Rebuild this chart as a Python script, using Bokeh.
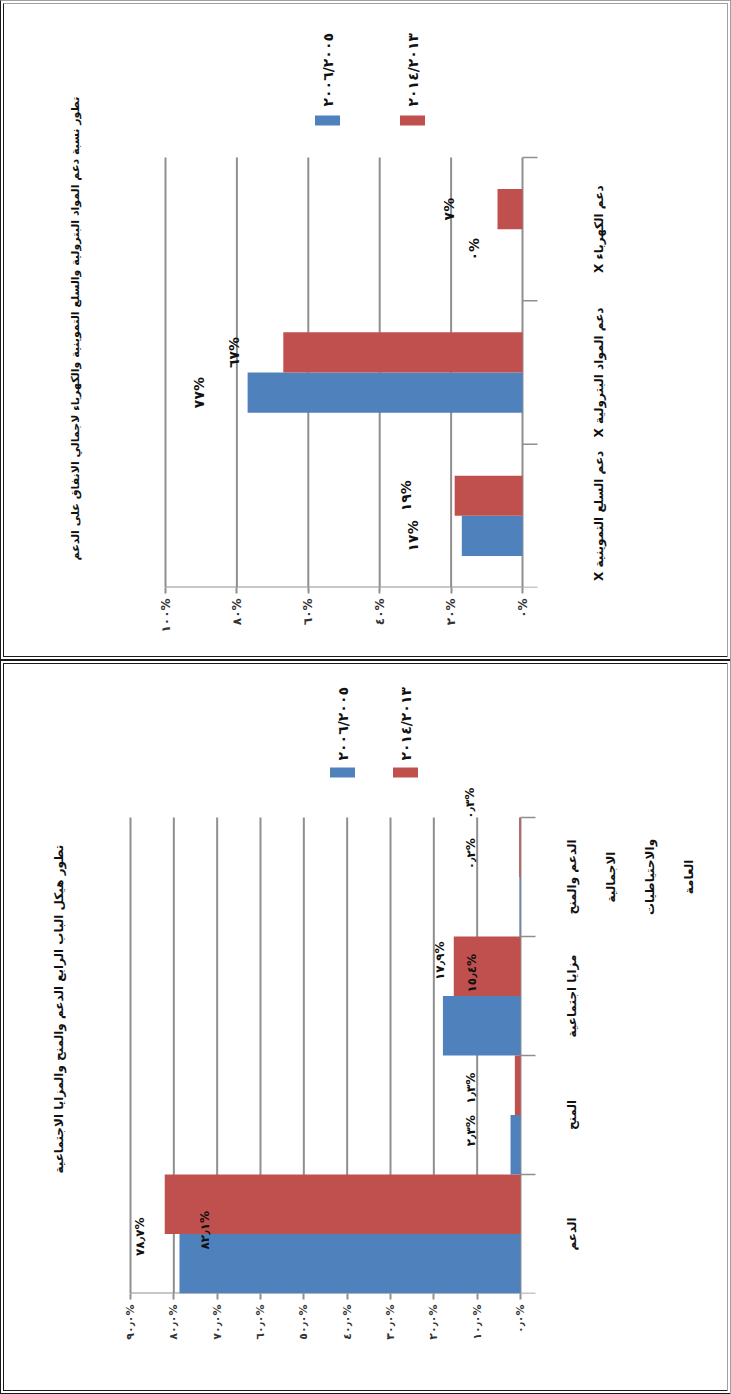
import math
from bokeh.plotting import figure
from bokeh.models import Range1d, FixedTicker, LinearAxis, Title, ColumnDataSource
from bokeh.layouts import column
from bokeh.embed import file_html
from bokeh.resources import INLINE
from bokeh.core.properties import value

AR_FONT = "DejaVu Sans"
BLUE = "#4F81BD"
RED = "#C0504D"
GRID = "#8f8f8f"
INK = "#111111"

# ---------------- data: top chart ----------------
top_title = "تطور نسبة دعم المواد البترولية والسلع التموينية والكهرباء لاجمالي الانفاق على الدعم"
top_categories = ["X دعم السلع التموينية", "X دعم المواد البترولية", "X دعم الكهرباء"]
top_series = ["٢٠٠٦/٢٠٠٥", "٢٠١٤/٢٠١٣"]
top_2005_06 = [17, 77, 0]
top_2013_14 = [19, 67, 7]
top_ticks = [0, 20, 40, 60, 80, 100]
top_tick_labels = ["٠%", "٢٠%", "٤٠%", "٦٠%", "٨٠%", "١٠٠%"]

# ---------------- data: bottom chart ----------------
bot_title = "تطور هيكل الباب الرابع الدعم والمنح والمزايا الاجتماعية"
bot_categories = ["الدعم", "المنح", "مزايا اجتماعية",
                  "الدعم والمنح\nالاجمالية\nوالاحتياطيات\nالعامة"]
bot_series = ["٢٠٠٦/٢٠٠٥", "٢٠١٤/٢٠١٣"]
bot_2005_06 = [78.7, 2.3, 17.9, 0.2]
bot_2013_14 = [82.1, 1.3, 15.4, 0.3]
bot_ticks = [0, 10, 20, 30, 40, 50, 60, 70, 80, 90]
bot_tick_labels = ["٠٫٠%", "١٠٫٠%", "٢٠٫٠%", "٣٠٫٠%", "٤٠٫٠%",
                   "٥٠٫٠%", "٦٠٫٠%", "٧٠٫٠%", "٨٠٫٠%", "٩٠٫٠%"]

AR_DIGITS = str.maketrans("0123456789.", "٠١٢٣٤٥٦٧٨٩٫")


def ar_pct(v, dec):
    return (f"{v:.{dec}f}").translate(AR_DIGITS) + "%"


PAGE_W = 731
BW = 4                                  # panel border width (CSS)
FRAME_L, FRAME_R, FRAME_T = 96, 725, 6  # in panel (page) pixels


def make_panel(cfg):
    height = cfg["height"]
    fb = cfg["axis_px"]            # pixel row of the value axis
    p0, pmax = cfg["zero_px"], cfg["max_px"]
    vmax = cfg["vmax"]
    gtop = cfg["grid_top_px"]
    cats = cfg["cats"]
    n = len(cats)
    ppv = (p0 - pmax) / vmax       # pixels per value unit
    ppu = (fb - gtop) / n          # pixels per category

    def vx(px):
        return (p0 - px) / ppv

    def vy(py):
        return (fb - py) / ppu

    # the drawing canvas keeps the full panel size and starts inside the border
    p = figure(width=PAGE_W - 2 * BW, height=height - 2 * BW,
               x_range=Range1d(vx(FRAME_L), vx(FRAME_R)),
               y_range=Range1d(0, vy(FRAME_T)),
               output_backend="svg", toolbar_location=None,
               x_axis_location=None, y_axis_location=None,
               min_border_left=FRAME_L - BW,
               min_border_right=PAGE_W - (FRAME_R - BW),
               min_border_top=FRAME_T - BW,
               min_border_bottom=height - (fb - BW))
    p.outline_line_color = None
    p.grid.visible = False

    ticks = cfg["ticks"]
    xa = LinearAxis(ticker=FixedTicker(ticks=ticks),
                    major_label_overrides={t: l for t, l in zip(ticks, cfg["tick_labels"])},
                    major_label_orientation=math.pi / 2,
                    major_label_text_font=AR_FONT,
                    major_label_text_font_size=cfg["tick_size"],
                    major_label_text_font_style="bold",
                    major_label_text_color="#333333",
                    axis_line_color=None,
                    major_tick_line_color=GRID, major_tick_line_width=2,
                    major_tick_in=0, major_tick_out=6,
                    minor_tick_line_color=None, major_label_standoff=5)
    p.add_layout(xa, "below")

    # gridlines (including the category axis at 0) and value axis line
    p.segment(x0=ticks, y0=[0] * len(ticks), x1=ticks, y1=[n] * len(ticks),
              line_color=GRID, line_width=2)
    p.segment(x0=[0], y0=[0], x1=[vmax], y1=[0], line_color=GRID, line_width=2)
    # category boundary tick marks
    bounds = list(range(n + 1))
    p.segment(x0=[0] * (n + 1), y0=bounds, x1=[vx(p0 + 15)] * (n + 1), y1=bounds,
              line_color=GRID, line_width=1.5)

    centers = [i + 0.5 for i in range(n)]
    bh = cfg["bar_h"]
    y_blue = [c - bh / 2 for c in centers]
    y_red = [c + bh / 2 for c in centers]
    for vals, col, ys, offs in ((cfg["s1"], BLUE, y_blue, cfg["off1"]),
                                (cfg["s2"], RED, y_red, cfg["off2"])):
        src = ColumnDataSource(dict(y=ys, v=vals,
                                    t=[ar_pct(v, cfg["dec"]) for v in vals],
                                    dx=[o[0] for o in offs],
                                    dy=[o[1] for o in offs]))
        p.hbar(y="y", left=0, right="v", height=bh, source=src,
               fill_color=col, line_color=None)
        p.text(x="v", y="y", text="t", source=src, angle=math.pi / 2,
               x_offset="dx", y_offset="dy",
               text_align="center", text_baseline="middle",
               text_font=value(AR_FONT), text_font_size=cfg["lab_size"],
               text_font_style="bold", text_color=INK)

    # category labels (rotated like the rest of the chart), one text per line
    lx, ly, lt = [], [], []
    for c, name in zip(centers, cats):
        for j, line in enumerate(name.split("\n")):
            lx.append(vx(cfg["cat_px"] + j * cfg["cat_step"]))
            ly.append(c)
            lt.append(line)
    p.text(x=lx, y=ly, text=lt, angle=math.pi / 2,
           text_align="center", text_baseline="middle",
           text_font=value(AR_FONT), text_font_size=cfg["cat_size"],
           text_font_style="bold", text_color=INK)

    # legend
    (bx, rx), sw_y, txt_y = cfg["legend_px"]
    gx = [vx(bx), vx(rx)]
    p.rect(x=gx, y=[vy(sw_y)] * 2, width=25, height=10,
           width_units="screen", height_units="screen",
           fill_color=[BLUE, RED], line_color=None)
    p.text(x=gx, y=[vy(txt_y)] * 2, text=cfg["names"], angle=math.pi / 2,
           text_align="left", text_baseline="middle",
           text_font=value(AR_FONT), text_font_size="14px",
           text_font_style="bold", text_color=INK)

    # title
    p.add_layout(Title(text=cfg["title"], align="left", offset=cfg["title_offset"],
                       text_font=AR_FONT, text_font_size=cfg["title_size"],
                       text_font_style="bold", text_color=INK,
                       standoff=cfg["title_standoff"]), "left")
    p.styles = {"box-sizing": "content-box",
                "border": f"{BW}px double #1a1a1a",
                "border-right": f"{BW}px double #a0a0a0",
                **cfg.get("extra_style", {})}
    return p


top = make_panel(dict(
    height=660, axis_px=587, zero_px=522, max_px=165, vmax=100, grid_top_px=157,
    cats=top_categories, s1=top_2005_06, s2=top_2013_14, names=top_series,
    ticks=top_ticks, tick_labels=top_tick_labels, tick_size="12px", dec=0,
    bar_h=0.28, lab_size="14px",
    off1=[(-49, 0)] * 3, off2=[(-49, 0)] * 3,
    cat_px=598, cat_step=0, cat_size="12px",
    legend_px=((327, 412), 120, 106),
    title=top_title, title_size="11px", title_offset=27, title_standoff=29,
    extra_style={"border-top": f"{BW}px double #a0a0a0"}))

bot = make_panel(dict(
    height=734, axis_px=633, zero_px=520, max_px=130, vmax=90, grid_top_px=157,
    cats=bot_categories, s1=bot_2005_06, s2=bot_2013_14, names=bot_series,
    ticks=bot_ticks, tick_labels=bot_tick_labels, tick_size="11px", dec=1,
    bar_h=0.5, lab_size="12px",
    off1=[(-39, -27), (-40, -14), (-3, -65), (-49, -53)],
    off2=[(40, 26), (-44, 3), (18, 7), (-49, -44)],
    cat_px=571, cat_step=39, cat_size="12px",
    legend_px=((342, 405), 112, 100),
    title=bot_title, title_size="12px", title_offset=120, title_standoff=61))

layout = column(top, bot, spacing=0)
open("out.html", "w").write(file_html(layout, INLINE))
